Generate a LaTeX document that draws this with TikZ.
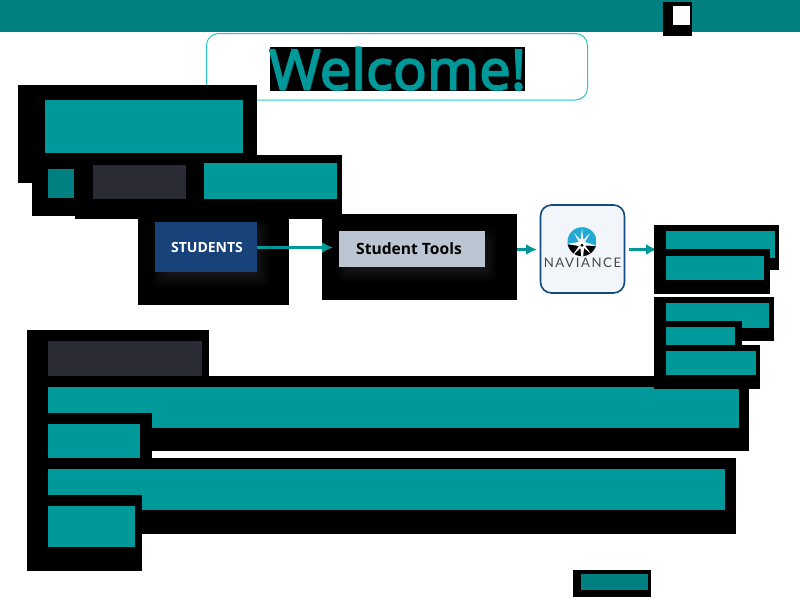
\documentclass[tikz,border=0pt]{standalone}
\usepackage{fontspec}
\setmainfont{Open Sans}
\newfontfamily\navfont[LetterSpace=12]{Lato}
\newfontfamily\welfont[FakeBold=2.5,LetterSpace=1]{Open Sans}
\usetikzlibrary{arrows.meta}
\definecolor{teal1}{HTML}{009999}
\definecolor{teal2}{HTML}{008080}
\definecolor{teal3}{HTML}{006F76}
\definecolor{darkbar}{HTML}{2B2B35}
\definecolor{frame}{HTML}{2CC8C8}
\definecolor{stublue}{HTML}{17427A}
\definecolor{toolgrey}{HTML}{BCC5D2}
\definecolor{navedge}{HTML}{0F4C81}
\definecolor{navfill}{HTML}{F2F5F9}
\definecolor{navblue}{HTML}{24A9D4}
\tikzset{
  plain/.style={inner sep=0pt,outer sep=0pt,draw=none},
  blackbox/.style={plain,fill=black},
  tealbox/.style={plain,fill=teal1},
  deepbox/.style={plain,fill=teal2},
  darkbox/.style={plain,fill=darkbar},
  flow/.style={draw=teal1,line width=3pt,-{Latex[length=11pt,width=11pt,fill=teal1]}},
  weltext/.style={plain,font=\welfont\fontsize{55.5}{55.5}\selectfont},
}
\newcommand{\bx}[6]{\node[#6,anchor=north west,minimum width={(#4-#2)*1pt},minimum height={(#5-#3)*1pt}] (#1) at (#2,#3) {};}
\newcommand{\glow}[4]{\foreach \e/\c in {12/3,10/6,8/9,6/12,4/15,2/18,0/21}{\definecolor{gl}{RGB}{\c,\c,\c}\fill[gl,rounded corners=6pt] (#1-\e+10,#2-\e+10) rectangle (#3+\e,#4+\e+3);}}
\begin{document}
\begin{tikzpicture}[x=1pt,y=-1pt]
\useasboundingbox (0,0) rectangle (800,600);
\fill[white] (0,0) rectangle (800,600);
\bx{topbar}{0}{0}{800}{32}{deepbox}
\bx{topmark}{663}{2}{692}{36}{blackbox}
\bx{topwhite}{673}{6}{690}{25}{plain,fill=white}
\draw[frame,line width=1pt,rounded corners=12pt] (206.5,33.5) rectangle (587.5,100);
\bx{welcomeback}{270}{47}{525}{91}{blackbox}
\node[weltext,text=teal3] (welcomeshade) at (398,69.2) {Welcome!};
\node[weltext,text=teal1] (welcome) at (397.3,68.6) {Welcome!};
% upper left
\bx{a1}{18}{85}{257}{183}{blackbox}
\bx{a1t}{45}{100}{243}{153}{tealbox}
\bx{a2}{32}{155}{80}{216}{blackbox}
\bx{a2t}{48}{169}{74}{198}{deepbox}
\bx{a3}{75}{155}{342}{219}{blackbox}
\bx{a3d}{93}{165}{186}{199}{darkbox}
\bx{a3t}{204}{163}{337}{199}{tealbox}
% flow row
\bx{stuback}{138}{219}{289}{305}{blackbox}
\glow{155}{222}{257}{272}
\bx{toolback}{322}{214}{517}{300}{blackbox}
\glow{339}{231}{485}{267}
\node[plain,fill=stublue,anchor=north west,minimum width=102pt,minimum height=50pt,text=white,font=\fontsize{14}{14}\selectfont\bfseries] (students) at (155,222) {\hspace{2pt}STUDENTS};
\node[plain,fill=toolgrey,anchor=north west,minimum width=146pt,minimum height=36pt,text=black,font=\fontsize{15.6}{15.6}\selectfont\bfseries] (tools) at (339,231) {Student Tools\hspace{6pt}\null};
\draw[draw=navedge,fill=navfill,line width=1.6pt,rounded corners=11pt] (540.5,205) rectangle (624.5,293);
\node[plain,anchor=north west,minimum width=85pt,minimum height=89pt] (nav) at (540,204) {};
\begin{scope}
  \clip (582,241.7) circle (14.5);
  \fill[navblue] (567,226) rectangle (597,246);
  \fill[black] (566,244) -- (598,246) -- (598,257) -- (566,257) -- cycle;
  \fill[white] (582,229) -- (583.4,240) -- (590,233) -- (585,242) -- (597,246) -- (585,245.5)
     -- (591,254) -- (584,248) -- (583,258) -- (581.4,258) -- (580.4,248) -- (572,256) -- (579,246) -- (566.5,244) -- (579,242) -- (574,233) -- (580.6,240) -- cycle;
  \fill[black] (582,245.2) circle (1.6);
\end{scope}
\node[plain,text=black!72,font={\navfont\fontsize{13.2}{13.2}\selectfont}] (navtext) at (582.5,263) {NAVIANCE};
\coordinate (r1in) at (657,249.5);
\draw[flow] (students.east |- 0,247.5) -- ([xshift=-6pt]tools.west |- 0,247.5);
\draw[flow] (toolback.east |- 0,249.5) -- ([xshift=-3pt]nav.west |- 0,249.5);
\draw[flow,shorten <=4pt] (nav.east |- 0,249.5) -- (r1in);
% right stack
\bx{r1}{654}{225}{779}{270}{blackbox}
\bx{r1t}{666}{231}{775}{258}{tealbox}
\bx{r2}{654}{249}{770}{294}{blackbox}
\bx{r2t}{666}{256}{764}{280}{tealbox}
% lower left
\bx{b1}{27}{330}{209}{380}{blackbox}
\bx{b1d}{48}{341}{202}{376}{darkbox}
\bx{b2}{27}{376}{749}{451}{blackbox}
\bx{b2t}{48}{387}{739}{428}{tealbox}
\bx{b3}{27}{413}{152}{458}{blackbox}
\bx{b3t}{48}{424}{140}{458}{tealbox}
\bx{b4}{27}{458}{736}{534}{blackbox}
\bx{b4t}{48}{469}{725}{510}{tealbox}
\bx{b5}{27}{495}{142}{571}{blackbox}
\bx{b5t}{48}{506}{135}{547}{tealbox}
\bx{r3}{654}{297}{774}{341}{blackbox}
\bx{r3t}{666}{303}{769}{328}{tealbox}
\bx{r4}{654}{321}{742}{365}{blackbox}
\bx{r4t}{666}{327}{735}{345}{tealbox}
\bx{r5}{654}{345}{760}{389}{blackbox}
\bx{r5t}{666}{351}{756}{375}{tealbox}
\bx{foot}{573}{570}{651}{597}{blackbox}
\bx{foott}{581}{574}{648}{590}{deepbox}
\end{tikzpicture}
\end{document}
